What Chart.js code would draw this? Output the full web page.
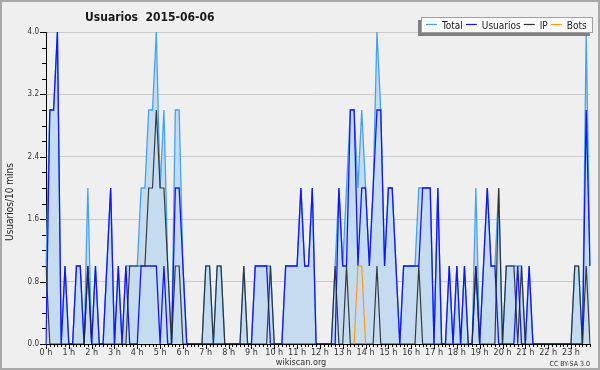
<!DOCTYPE html>
<html>
<head>
<meta charset="utf-8">
<script src="https://cdn.jsdelivr.net/npm/chart.js@4.4.1/dist/chart.umd.min.js"></script>
<style>
  html, body { margin: 0; padding: 0; background: #efefef; }
  #grafico { display: block; }
</style>
</head>
<body>
<canvas id="grafico" width="600" height="370"></canvas>
<script>
// etiquetas de las horas (eje x)
var horas = ['0 h','1 h','2 h','3 h','4 h','5 h','6 h','7 h','8 h','9 h','10 h','11 h',
             '12 h','13 h','14 h','15 h','16 h','17 h','18 h','19 h','20 h','21 h','22 h','23 h'];

// valores cada 10 minutos (144 intervalos)
var total = [
  1,3,3,4,0,1,0,0,1,1,0,2,
  0,1,0,0,1,2,0,1,0,1,1,1,
  1,2,2,3,3,4,2,3,1,0,3,3,
  1,0,0,0,0,0,1,1,0,1,1,0,
  0,0,0,0,1,0,0,1,1,1,1,1,
  0,0,0,1,1,1,1,2,1,1,2,0,
  0,0,0,0,1,2,1,2,3,3,2,3,
  2,1,2,4,3,1,2,2,1,0,1,1,
  1,1,2,2,2,2,0,2,0,0,1,0,
  1,0,1,0,0,2,0,1,2,1,1,2,
  0,1,1,1,1,1,0,1,0,0,0,0,
  0,0,0,0,0,0,0,1,1,0,4,1
];
var usuarios = [
  0,3,3,4,0,1,0,0,1,1,0,1,
  0,1,0,0,1,2,0,1,0,1,0,0,
  0,1,1,1,1,1,0,1,0,0,2,2,
  1,0,0,0,0,0,0,0,0,0,0,0,
  0,0,0,0,0,0,0,1,1,1,1,0,
  0,0,0,1,1,1,1,2,1,1,2,0,
  0,0,0,0,0,2,1,1,3,3,1,2,
  2,1,2,3,3,1,2,2,1,0,1,1,
  1,1,1,2,2,2,0,2,0,0,1,0,
  1,0,1,0,0,1,0,1,2,1,1,0,
  0,0,0,0,1,0,0,1,0,0,0,0,
  0,0,0,0,0,0,0,0,0,0,3,1
];
var ip = [
  1,0,0,0,0,0,0,0,0,0,0,1,
  0,0,0,0,0,0,0,0,0,0,1,1,
  1,1,1,2,2,3,2,2,1,0,1,1,
  0,0,0,0,0,0,1,1,0,1,1,0,
  0,0,0,0,1,0,0,0,0,0,0,1,
  0,0,0,0,0,0,0,0,0,0,0,0,
  0,0,0,0,1,0,0,1,0,0,0,0,
  0,0,0,1,0,0,0,0,0,0,0,0,
  0,0,1,0,0,0,0,0,0,0,0,0,
  0,0,0,0,0,1,0,0,0,0,0,2,
  0,1,1,1,0,1,0,0,0,0,0,0,
  0,0,0,0,0,0,0,1,1,0,1,0
];
var bots = [
  0,0,0,0,0,0,0,0,0,0,0,0,
  0,0,0,0,0,0,0,0,0,0,0,0,
  0,0,0,0,0,0,0,0,0,0,0,0,
  0,0,0,0,0,0,0,0,0,0,0,0,
  0,0,0,0,0,0,0,0,0,0,0,0,
  0,0,0,0,0,0,0,0,0,0,0,0,
  0,0,0,0,0,0,0,0,0,0,1,1,
  0,0,0,0,0,0,0,0,0,0,0,0,
  0,0,0,0,0,0,0,0,0,0,0,0,
  0,0,0,0,0,0,0,0,0,0,0,0,
  0,0,0,0,0,0,0,0,0,0,0,0,
  0,0,0,0,0,0,0,0,0,0,0,0
];

var fuente = '"DejaVu Sans Condensed", "DejaVu Sans", sans-serif';
var colores = { total: '#45a2f0', usuarios: '#1414ff', ip: 'rgba(40,40,40,0.9)', bots: '#ff9a10' };

// una etiqueta por intervalo de 10 minutos
var intervalos = [];
for (var h = 0; h < 24; h++) {
  for (var m = 0; m < 60; m += 10) {
    intervalos.push(h + ':' + (m < 10 ? '0' : '') + m);
  }
}

// fondo, marco, marcas de los ejes, titulo, leyenda y textos
var decoracion = {
  id: 'decoracion',
  beforeDraw: function(chart) {
    var c = chart.ctx;
    c.save();
    c.fillStyle = '#efefef';
    c.fillRect(0, 0, chart.width, chart.height);
    c.restore();
  },
  afterDraw: function(chart) {
    var c = chart.ctx;
    var xs = chart.scales.x, ys = chart.scales.y;
    var area = chart.chartArea;
    c.save();

    // marcas eje x
    c.strokeStyle = '#000';
    c.lineWidth = 1;
    c.beginPath();
    for (var i = 0; i < intervalos.length; i++) {
      var px = Math.round(xs.getPixelForValue(i)) + 0.5;
      var largo = (i % 6 === 0) ? 5 : 3;
      c.moveTo(px, area.bottom);
      c.lineTo(px, area.bottom + largo);
    }
    // marcas eje y
    for (var k = 0; k <= 20; k++) {
      var py = Math.round(ys.getPixelForValue(k * 0.2)) + 0.5;
      var l = (k % 4 === 0) ? 6 : 4;
      c.moveTo(area.left - l, py);
      c.lineTo(area.left, py);
    }
    c.stroke();

    // titulo
    c.fillStyle = '#1a1a1a';
    c.font = 'bold 12px ' + fuente;
    c.textBaseline = 'alphabetic';
    c.textAlign = 'left';
    c.fillText('Usuarios  2015-06-06', 85, 21);

    // titulo eje y
    c.save();
    c.translate(13, 202);
    c.rotate(-Math.PI / 2);
    c.font = '10px ' + fuente;
    c.textAlign = 'center';
    c.fillStyle = '#222';
    c.fillText('Usuarios/10 mins', 0, 0);
    c.restore();

    // pie
    c.font = '9px ' + fuente;
    c.textAlign = 'center';
    c.fillStyle = '#333';
    c.fillText('wikiscan.org', 301, 365);
    c.font = '7px ' + fuente;
    c.textAlign = 'right';
    c.fillText('CC BY-SA 3.0', 590, 366);

    // leyenda
    c.fillStyle = '#808080';
    c.fillRect(418, 20, 172, 16);
    c.fillStyle = '#fbfbfb';
    c.fillRect(421, 17, 172, 16);
    c.strokeStyle = '#a0a0a0';
    c.strokeRect(421.5, 17.5, 171, 15);
    var items = [['Total', colores.total], ['Usuarios', colores.usuarios], ['IP', '#333'], ['Bots', colores.bots]];
    c.font = '10px ' + fuente;
    c.textAlign = 'left';
    var x = 426;
    items.forEach(function(it) {
      c.strokeStyle = it[1];
      c.lineWidth = 1.2;
      c.beginPath();
      c.moveTo(x, 24.5);
      c.lineTo(x + 11, 24.5);
      c.stroke();
      x += 16;
      c.fillStyle = '#222';
      c.fillText(it[0], x, 28.5);
      x += c.measureText(it[0]).width + 3;
    });

    // marco
    c.strokeStyle = '#a8a8a8';
    c.lineWidth = 2;
    c.strokeRect(1, 1, chart.width - 2, chart.height - 2);
    c.restore();
  }
};

var ctx = document.getElementById('grafico').getContext('2d');
var grafico = new Chart(ctx, {
  type: 'line',
  data: {
    labels: intervalos,
    datasets: [
      { label: 'Total', data: total, borderColor: colores.total, backgroundColor: '#c5dcf0',
        fill: 'origin', borderWidth: 1.3, order: 4 },
      { label: 'Usuarios', data: usuarios, borderColor: colores.usuarios, borderWidth: 1.3, fill: false, order: 3 },
      { label: 'IP', data: ip, borderColor: colores.ip, borderWidth: 1.2, fill: false, order: 2 },
      { label: 'Bots', data: bots, borderColor: colores.bots, borderWidth: 1.2, fill: false, order: 1,
        segment: { borderColor: function(s) { return (s.p0.parsed.y === 0 && s.p1.parsed.y === 0) ? 'rgba(0,0,0,0)' : colores.bots; } } }
    ]
  },
  options: {
    responsive: false,
    animation: false,
    devicePixelRatio: 1,
    elements: { point: { radius: 0 }, line: { tension: 0 } },
    layout: { padding: { left: 0, top: 32, right: 10, bottom: 0 } },
    plugins: { legend: { display: false }, title: { display: false }, tooltip: { enabled: false } },
    scales: {
      x: {
        grid: { display: false, drawTicks: false },
        border: { display: true, color: '#000', width: 1 },
        ticks: {
          autoSkip: false, maxRotation: 0, minRotation: 0, padding: 3,
          color: '#333', font: { family: fuente, size: 9 },
          callback: function(v, i) { return (i % 6 === 0) ? horas[i / 6] : ''; }
        },
        afterFit: function(s) { s.height = 26; }
      },
      y: {
        min: 0, max: 4,
        grid: {
          drawTicks: false,
          color: function(c) { return c.tick && c.tick.value === 0 ? 'rgba(0,0,0,0)' : '#cacaca'; }
        },
        border: { display: true, color: '#000', width: 1 },
        ticks: {
          stepSize: 0.8, padding: 7, color: '#333', font: { family: fuente, size: 8 },
          callback: function(v) { return Number(v).toFixed(1); }
        },
        afterFit: function(s) { s.width = 46; }
      }
    }
  },
  plugins: [decoracion]
});
</script>
</body>
</html>
